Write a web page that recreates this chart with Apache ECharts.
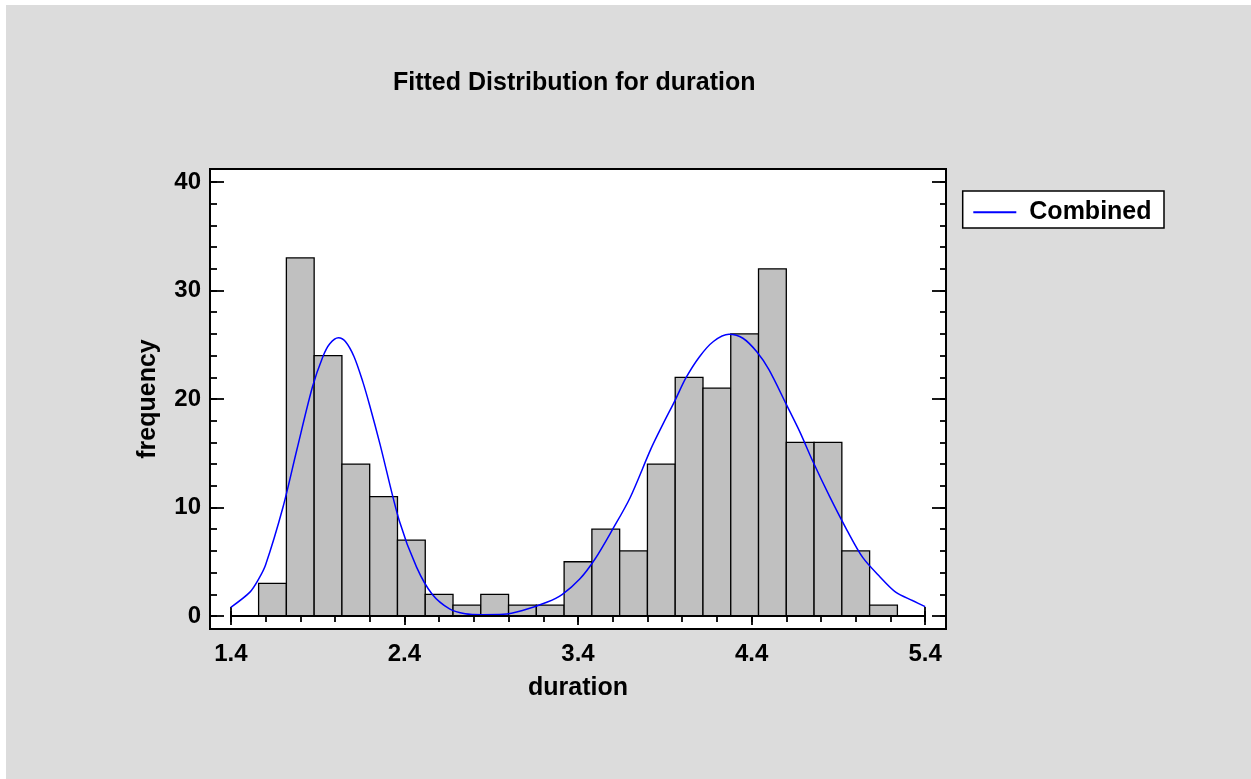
<!DOCTYPE html>
<html>
<head>
<meta charset="utf-8">
<script src="https://cdn.jsdelivr.net/npm/echarts@6/dist/echarts.min.js"></script>
<style>
html,body{margin:0;padding:0;background:#ffffff;}
#chart{width:1251px;height:779px;}
</style>
</head>
<body>
<div id="chart"></div>
<script>
// ---- data ----
const binStarts = [1.56,1.72,1.88,2.04,2.20,2.36,2.52,2.68,2.84,3.00,3.16,3.32,3.48,3.64,3.80,3.96,4.12,4.28,4.44,4.60,4.76,4.92,5.08];
const binWidth = 0.16;
const counts = [3,33,24,14,11,7,2,1,2,1,1,5,8,6,14,22,21,26,32,16,16,6,1];
const curveX = [1.40,1.51,1.56,1.60,1.70,1.78,1.87,1.93,1.97,2.02,2.06,2.11,2.16,2.20,2.26,2.37,2.47,2.56,2.66,2.75,2.85,2.97,3.08,3.22,3.31,3.41,3.50,3.60,3.70,3.82,3.89,3.96,4.02,4.10,4.18,4.27,4.35,4.43,4.50,4.60,4.68,4.75,4.85,4.95,5.04,5.14,5.23,5.33,5.40];
const curveY = [0.8,2.2,3.4,4.7,10.0,15.3,21.1,23.9,25.1,25.65,25.3,23.9,21.6,19.4,15.8,8.8,4.5,2.0,0.65,0.2,0.12,0.15,0.5,1.26,2.0,3.4,5.3,8.0,10.9,15.4,17.7,19.9,21.9,23.9,25.3,25.96,25.6,24.35,22.7,19.5,16.9,14.35,11.0,7.9,5.4,3.6,2.2,1.4,0.86];
const xTickLabels = [1.4,2.4,3.4,4.4,5.4];
const xMinorTicks = [1.4,1.6,1.8,2.0,2.2,2.4,2.6,2.8,3.0,3.2,3.4,3.6,3.8,4.0,4.2,4.4,4.6,4.8,5.0,5.2,5.4];
const yTickLabels = [0,10,20,30,40];
const yMinorTicks = [0,2,4,6,8,10,12,14,16,18,20,22,24,26,28,30,32,34,36,38,40];
const seriesName = 'Combined';
const titleText = 'Fitted Distribution for duration';
const xName = 'duration';
const yName = 'frequency';

const FONT = '"Liberation Sans", Arial, sans-serif';
const X_MIN = 1.28, X_MAX = 5.52, Y_MIN = -1.2, Y_MAX = 41.2;

function xAxisDef(pos, values, len, showLabel, extra) {
  return Object.assign({
    type: 'value', gridIndex: 0, position: pos, min: X_MIN, max: X_MAX,
    axisLine: { show: false }, splitLine: { show: false },
    axisTick: { show: true, inside: true, length: len, customValues: values,
                lineStyle: { color: '#000', width: 1.8 } },
    axisLabel: { show: showLabel, customValues: xTickLabels, margin: 13,
                 color: '#000', fontFamily: FONT, fontWeight: 'bold', fontSize: 24,
                 formatter: v => v.toFixed(1) }
  }, extra || {});
}
function yAxisDef(pos, values, len, showLabel, extra) {
  return Object.assign({
    type: 'value', gridIndex: 0, position: pos, min: Y_MIN, max: Y_MAX,
    axisLine: { show: false }, splitLine: { show: false },
    axisTick: { show: true, inside: true, length: len, customValues: values,
                lineStyle: { color: '#000', width: 1.8 } },
    axisLabel: { show: showLabel, customValues: yTickLabels, margin: 9,
                 color: '#000', fontFamily: FONT, fontWeight: 'bold', fontSize: 24,
                 padding: [6, 0, 0, 0] }
  }, extra || {});
}

const chart = echarts.init(document.getElementById('chart'), null, { renderer: 'canvas' });

const option = {
  backgroundColor: '#dcdcdc',
  animation: false,
  graphic: [
    { type: 'rect', left: 0, top: 0, shape: { width: 1251, height: 5 }, style: { fill: '#ffffff' }, silent: true },
    { type: 'rect', left: 0, top: 0, shape: { width: 6, height: 779 }, style: { fill: '#ffffff' }, silent: true },
    { type: 'rect', z: -1, shape: { x: 962.7, y: 191, width: 201.3, height: 37 },
      style: { fill: '#ffffff', stroke: '#000', lineWidth: 1.5 }, silent: true }
  ],
  title: {
    text: titleText, left: 393, top: 71, padding: 0,
    textStyle: { color: '#000', fontFamily: FONT, fontWeight: 'bold', fontSize: 25, lineHeight: 25 }
  },
  legend: {
    show: true, orient: 'horizontal', left: 973.3, top: 197.2,
    padding: 0, z: 5,
    backgroundColor: 'transparent', borderWidth: 0,
    itemWidth: 43, itemHeight: 2, icon: 'rect',
    data: [{ name: seriesName }],
    textStyle: { color: '#000', fontFamily: FONT, fontWeight: 'bold', fontSize: 25, lineHeight: 25, padding: [5, 0, 0, 8] }
  },
  grid: {
    show: true, left: 210, right: 305, top: 169, bottom: 150,
    backgroundColor: '#ffffff', borderColor: '#000', borderWidth: 2
  },
  xAxis: [
    xAxisDef('bottom', xTickLabels, 9, true, {
      name: xName, nameLocation: 'middle', nameGap: 47,
      nameTextStyle: { color: '#000', fontFamily: FONT, fontWeight: 'bold', fontSize: 25 }
    }),
    xAxisDef('bottom', xMinorTicks, 5, false),
    xAxisDef('top', xTickLabels, 9, false),
    xAxisDef('top', xMinorTicks, 6, false)
  ],
  yAxis: [
    yAxisDef('left', yTickLabels, 14, true, {
      name: yName, nameLocation: 'middle', nameGap: 49,
      nameTextStyle: { color: '#000', fontFamily: FONT, fontWeight: 'bold', fontSize: 25 }
    }),
    yAxisDef('left', yMinorTicks, 7, false),
    yAxisDef('right', yTickLabels, 14, false),
    yAxisDef('right', yMinorTicks, 6, false)
  ],
  series: [
    {
      name: 'histogram', type: 'custom', xAxisIndex: 0, yAxisIndex: 0,
      data: binStarts.map((b, i) => [b, counts[i]]),
      renderItem: function (params, api) {
        const x0 = api.value(0), h = api.value(1);
        const p0 = api.coord([x0, 0]);
        const p1 = api.coord([x0 + binWidth, h]);
        return {
          type: 'rect',
          shape: { x: p0[0], y: p1[1], width: p1[0] - p0[0], height: p0[1] - p1[1] },
          style: { fill: '#c0c0c0', stroke: '#000', lineWidth: 1.3 }
        };
      },
      markLine: {
        silent: true, symbol: 'none', animation: false,
        label: { show: false },
        lineStyle: { color: '#000', width: 2, type: 'solid' },
        data: [[{ coord: [xTickLabels[0], 0] }, { coord: [xTickLabels[xTickLabels.length - 1], 0] }]]
      },
      z: 2
    },
    {
      name: seriesName, type: 'line', xAxisIndex: 0, yAxisIndex: 0,
      data: curveX.map((x, i) => [x, curveY[i]]),
      smooth: 0.3, symbol: 'none', showSymbol: false,
      itemStyle: { color: '#0000ff' },
      lineStyle: { color: '#0000ff', width: 1.5 },
      z: 3
    }
  ]
};
chart.setOption(option);
</script>
</body>
</html>
